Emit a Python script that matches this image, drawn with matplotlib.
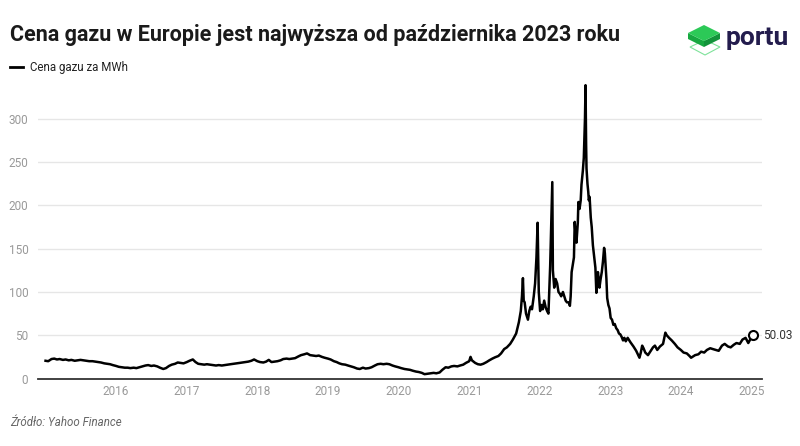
import numpy as np
import pandas as pd
import matplotlib
matplotlib.use("Agg")
import matplotlib.pyplot as plt
from matplotlib.patches import Polygon

plt.rcParams['font.family'] = ['Roboto', 'DejaVu Sans']

# cena gazu TTF (EUR/MWh)
dates = [
    "2015-01-01", "2015-01-15", "2015-02-01", "2015-02-15", "2015-03-01", "2015-03-15",
    "2015-04-01", "2015-04-15", "2015-05-01", "2015-05-15", "2015-06-01", "2015-06-15",
    "2015-07-01", "2015-07-15", "2015-08-01", "2015-08-15", "2015-09-01", "2015-09-15",
    "2015-10-01", "2015-10-15", "2015-11-01", "2015-11-15", "2015-12-01", "2015-12-15",
    "2016-01-01", "2016-01-15", "2016-02-01", "2016-02-15", "2016-03-01", "2016-03-15",
    "2016-04-01", "2016-04-15", "2016-05-01", "2016-05-15", "2016-06-01", "2016-06-15",
    "2016-07-01", "2016-07-15", "2016-08-01", "2016-08-15", "2016-09-01", "2016-09-15",
    "2016-10-01", "2016-10-15", "2016-11-01", "2016-11-15", "2016-12-01", "2016-12-15",
    "2017-01-01", "2017-01-15", "2017-02-01", "2017-02-15", "2017-03-01", "2017-03-15",
    "2017-04-01", "2017-04-15", "2017-05-01", "2017-05-15", "2017-06-01", "2017-06-15",
    "2017-07-01", "2017-07-15", "2017-08-01", "2017-08-15", "2017-09-01", "2017-09-15",
    "2017-10-01", "2017-10-15", "2017-11-01", "2017-11-15", "2017-12-01", "2017-12-15",
    "2018-01-01", "2018-01-15", "2018-02-01", "2018-02-15", "2018-03-01", "2018-03-15",
    "2018-04-01", "2018-04-15", "2018-05-01", "2018-05-15", "2018-06-01", "2018-06-15",
    "2018-07-01", "2018-07-15", "2018-08-01", "2018-08-15", "2018-09-01", "2018-09-15",
    "2018-10-01", "2018-10-15", "2018-11-01", "2018-11-15", "2018-12-01", "2018-12-15",
    "2019-01-01", "2019-01-15", "2019-02-01", "2019-02-15", "2019-03-01", "2019-03-15",
    "2019-04-01", "2019-04-15", "2019-05-01", "2019-05-15", "2019-06-01", "2019-06-15",
    "2019-07-01", "2019-07-15", "2019-08-01", "2019-08-15", "2019-09-01", "2019-09-15",
    "2019-10-01", "2019-10-15", "2019-11-01", "2019-11-15", "2019-12-01", "2019-12-15",
    "2020-01-01", "2020-01-15", "2020-02-01", "2020-02-15", "2020-03-01", "2020-03-15",
    "2020-04-01", "2020-04-15", "2020-05-01", "2020-05-15", "2020-06-01", "2020-06-15",
    "2020-07-01", "2020-07-15", "2020-08-01", "2020-08-15", "2020-09-01", "2020-09-15",
    "2020-10-01", "2020-10-15", "2020-11-01", "2020-11-15", "2020-12-01", "2020-12-15",
    "2021-01-01", "2021-01-08", "2021-01-15", "2021-02-01", "2021-02-15", "2021-03-01",
    "2021-03-15", "2021-04-01", "2021-04-15", "2021-05-01", "2021-05-15", "2021-06-01",
    "2021-06-15", "2021-07-01", "2021-07-15", "2021-08-01", "2021-08-15", "2021-09-01",
    "2021-09-15", "2021-09-25", "2021-10-01", "2021-10-06", "2021-10-10", "2021-10-15",
    "2021-10-22", "2021-11-01", "2021-11-08", "2021-11-15", "2021-11-22", "2021-12-01",
    "2021-12-08", "2021-12-15", "2021-12-21", "2021-12-27",
    "2022-01-03", "2022-01-10", "2022-01-17", "2022-01-24", "2022-02-01", "2022-02-08",
    "2022-02-15", "2022-02-24", "2022-03-03", "2022-03-07", "2022-03-10", "2022-03-17",
    "2022-03-24", "2022-04-01", "2022-04-08", "2022-04-15", "2022-04-22", "2022-05-01",
    "2022-05-08", "2022-05-15", "2022-05-22",
    "2022-06-01", "2022-06-06", "2022-06-10", "2022-06-15", "2022-06-22", "2022-06-27",
    "2022-07-01", "2022-07-06", "2022-07-10", "2022-07-17", "2022-07-20", "2022-07-26",
    "2022-08-01", "2022-08-05", "2022-08-12", "2022-08-17", "2022-08-23", "2022-08-26",
    "2022-08-29", "2022-08-31", "2022-09-05", "2022-09-09", "2022-09-12", "2022-09-16",
    "2022-09-22", "2022-09-27", "2022-10-03", "2022-10-10", "2022-10-16", "2022-10-21",
    "2022-10-25", "2022-10-29", "2022-11-02", "2022-11-06", "2022-11-12", "2022-11-18",
    "2022-11-24", "2022-11-30", "2022-12-04", "2022-12-08", "2022-12-12", "2022-12-16",
    "2022-12-22", "2022-12-28",
    "2023-01-03", "2023-01-10", "2023-01-17", "2023-01-24", "2023-02-01", "2023-02-08",
    "2023-02-15", "2023-02-22", "2023-03-01", "2023-03-08", "2023-03-15", "2023-03-22",
    "2023-04-01", "2023-04-15", "2023-05-01", "2023-05-15", "2023-06-01", "2023-06-08",
    "2023-06-15", "2023-06-22", "2023-07-01", "2023-07-15", "2023-08-01", "2023-08-10",
    "2023-08-20", "2023-09-01", "2023-09-15", "2023-10-01", "2023-10-13", "2023-10-20",
    "2023-11-01", "2023-11-15", "2023-12-01", "2023-12-15",
    "2024-01-01", "2024-01-15", "2024-02-01", "2024-02-15", "2024-02-23", "2024-03-01",
    "2024-03-15", "2024-04-01", "2024-04-15", "2024-05-01", "2024-05-15", "2024-06-01",
    "2024-06-15", "2024-07-01", "2024-07-15", "2024-08-01", "2024-08-15", "2024-09-01",
    "2024-09-15", "2024-10-01", "2024-10-15", "2024-11-01", "2024-11-15", "2024-12-01",
    "2024-12-15", "2025-01-01", "2025-01-10",
]
prices = [
    20.5, 20, 22.5, 23, 22, 22.5, 21.5, 22, 21, 21.5, 20.5, 21,
    21.5, 21, 20.5, 20, 20, 19.5, 19, 18.5, 17.5, 17, 16.5, 15.5,
    14.5, 13.5, 13, 12.5, 12.5, 12, 12.5, 12, 13, 14, 15, 15.5,
    14.5, 15, 14, 12.5, 11, 12, 14.5, 16, 17, 18.5, 18, 17.5,
    19, 20.5, 22, 19, 17, 16.5, 16, 16.5, 16, 15.5, 15, 15.5,
    15, 15.5, 16, 16.5, 17, 17.5, 18, 18.5, 19, 19.5, 20.5, 22,
    20, 19, 18.5, 19.5, 21.5, 19, 19.5, 20, 21, 22.5, 23, 22.5,
    23, 23.5, 25.5, 27, 28, 29, 27, 26.5, 26, 26.5, 25, 24,
    23, 22, 20, 19, 17.5, 16.5, 16, 15, 14, 13, 11.5, 11,
    12.5, 11.5, 12, 13, 15, 16.5, 17, 16.5, 17, 16.5, 15, 14,
    13, 12, 11, 10.5, 10, 9, 8, 7.5, 6.5, 5, 5.5, 6,
    6.5, 6, 7, 10, 13, 12.5, 14, 14.5, 14, 15, 16, 18,
    20, 25, 21, 18, 16.5, 16,
    17, 19, 21, 23, 24.5, 26,
    29, 34, 36, 40, 45, 52,
    65, 78, 95, 116, 90, 88,
    75, 68, 78, 83, 80, 95,
    110, 140, 180, 100,
    78, 85, 80, 90, 82, 78,
    75, 130, 190, 227, 125, 105,
    115, 110, 100, 98, 95, 100,
    95, 90, 88,
    88, 84, 95, 123, 133, 140,
    181, 165, 157, 180, 204, 196,
    206, 224, 240, 255, 300, 339,
    270, 243, 225, 216, 206, 210,
    186, 175, 154, 140, 128, 99,
    110, 123, 115, 105, 115, 123,
    135, 151, 145, 131, 115, 93,
    85, 81,
    70, 68, 62, 63, 58, 56,
    52, 51, 48, 44, 47, 43,
    47, 42, 37, 32, 24, 30,
    38, 35, 30, 27, 33, 36,
    38, 33, 37, 40, 53, 50,
    47, 44, 40, 36,
    33, 30, 29, 26, 24, 25,
    27, 28, 31, 30, 33, 35,
    34, 33, 32, 38, 40, 37,
    36, 39, 41, 40, 45, 47,
    41, 48, 50.03,
]

year_ticks = list(range(2016, 2026))
y_ticks = [0, 50, 100, 150, 200, 250, 300]

t = pd.to_datetime(dates)
p = np.array(prices)

fig = plt.figure(figsize=(8, 4.46), dpi=100)
ax = fig.add_axes([38 / 800, (446 - 378.5) / 446, 724 / 800, 298.5 / 446])

ax.plot(t, p, color='black', lw=1.8, solid_joinstyle='round', zorder=3)
ax.plot(t[-1], p[-1], 'o', ms=6.5, mfc='white', mec='black', mew=1.5, zorder=4)
ax.annotate(f"{p[-1]:.2f}", (t[-1], p[-1]), xytext=(7, 0), textcoords='offset points',
            va='center', ha='left', fontsize=8.5, color='#333333')

ax.set_xlim(pd.Timestamp("2014-11-23"), pd.Timestamp("2025-02-24"))
ax.set_ylim(0, 345)
ax.set_yticks(y_ticks)
ax.set_xticks([pd.Timestamp(f"{y}-01-01") for y in year_ticks])
ax.set_xticklabels([str(y) for y in year_ticks])
ax.grid(axis='y', color='#e6e6e6', lw=1)
ax.set_axisbelow(True)
ax.tick_params(length=0, labelsize=8.5, labelcolor='#999999')
ax.tick_params(axis='y', pad=7)
ax.tick_params(axis='x', pad=5)
for s in ['top', 'right', 'left']:
    ax.spines[s].set_visible(False)
ax.spines['bottom'].set_color('#333333')
ax.spines['bottom'].set_linewidth(1.3)

fig.text(10 / 800, 1 - 41 / 446, "Cena gazu w Europie jest najwyższa od października 2023 roku",
         fontsize=15.5, fontweight='bold', color='#1a1a1a', va='baseline')
fig.text(30 / 800, 1 - 67 / 446, "Cena gazu za MWh", fontsize=8.3, color='#222222', va='center')
fig.add_artist(plt.Line2D([10 / 800, 23 / 800], [1 - 67 / 446, 1 - 67 / 446],
                          color='black', lw=2))
fig.text(10 / 800, 1 - 423 / 446, "Źródło: Yahoo Finance", fontsize=8.3, style='italic',
         color='#666666', va='center')

# logo portu
lg = fig.add_axes([0, 0, 1, 1], zorder=5)
lg.set_xlim(0, 800)
lg.set_ylim(446, 0)
lg.axis('off')
lg.add_patch(Polygon([(690, 47), (705, 40), (720, 47), (705, 55)], closed=True,
                     fill=False, ec='#7ee29a', lw=0.8))
lg.add_patch(Polygon([(688, 33), (704, 41), (704, 47), (688, 39)], closed=True, fc='#17a840', ec='none'))
lg.add_patch(Polygon([(704, 41), (720, 33), (720, 39), (704, 47)], closed=True, fc='#12933a', ec='none'))
lg.add_patch(Polygon([(688, 33), (704, 25), (720, 33), (704, 41)], closed=True, fc='#2cc957', ec='none'))
lg.text(726, 45, "portu", fontsize=19, fontweight='bold', color='#231c4d', va='baseline')

fig.savefig("out.png", dpi=100)
